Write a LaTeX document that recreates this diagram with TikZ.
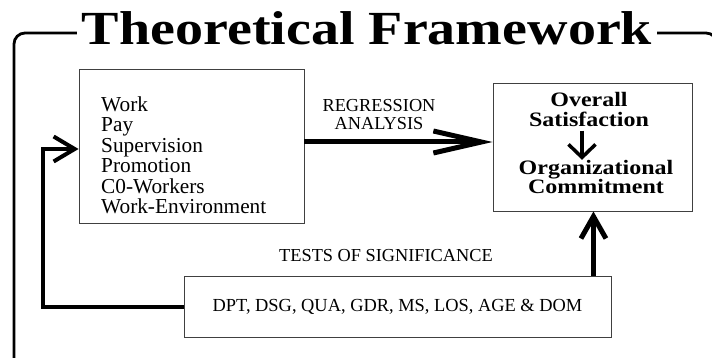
\documentclass[tikz,border=0pt]{standalone}
\usepackage{fontspec}
\setmainfont{Liberation Serif}
\usetikzlibrary{arrows.meta}
\newcommand{\widetxt}[1]{\scalebox{1.17}[1]{#1}}
\begin{document}
\begin{tikzpicture}[x=1pt,y=-1pt,
  box/.style={draw=black!75, line width=0.9pt, inner sep=0pt},
  lbl/.style={inner sep=0pt, font=\fontsize{18.3}{18}\selectfont, align=center},
  boldtxt/.style={inner sep=0pt, align=center, font=\fontsize{20.5}{19.5}\selectfont\bfseries},
  framepath/.style={line width=2.8pt, rounded corners=11pt},
  regarrow/.style={line width=5pt, -{Straight Barb[length=48pt,width=22pt]}},
  uparrow/.style={line width=5pt, -{Straight Barb[length=22pt,width=25pt]}},
  fbarrow/.style={line width=4pt, -{Straight Barb[length=21pt,width=25pt]}},
  downarrow/.style={line width=3.5pt, shorten <=4pt, -{Straight Barb[length=13pt,width=27pt]}},
]
\useasboundingbox (0,0) rectangle (712,358);
\clip (0,0) rectangle (712,358);
\fill[white] (0,0) rectangle (712,358);
% outer frame
\draw[framepath] (14,362) -- (14,33) -- (717,33) -- (717,362);
% title
\node[fill=white, inner xsep=5pt, inner ysep=0pt, anchor=base,
      font=\fontsize{47.5}{50}\selectfont\bfseries] (title) at (367,45)
      {\scalebox{1.18}[1]{Theoretical Framework}};
% left box
\node[box, minimum width=225pt, minimum height=154pt] (lbox) at (191.5,146) {};
\node[inner sep=0pt, anchor=north west, align=left,
      font=\fontsize{21.3}{20.4}\selectfont] (ltext) at (101,96.5)
      {Work\\Pay\\Supervision\\Promotion\\C0-Workers\\Work-Environment};
% right box
\node[box, minimum width=199pt, minimum height=128pt] (rbox) at (592.5,147) {};
\node[boldtxt] (sat) at (589,109.5) {\widetxt{Overall}\\\widetxt{Satisfaction}};
\node[boldtxt] (com) at (596,177) {\widetxt{Organizational}\\\widetxt{Commitment}};
% bottom box
\node[box, minimum width=427pt, minimum height=61pt,
      font=\fontsize{18.4}{20}\selectfont] (bbox) at (397.5,306.5)
      {DPT, DSG, QUA, GDR, MS, LOS, AGE \& DOM};
% labels
\node[lbl] (reg) at (379,115) {REGRESSION\\ANALYSIS};
\node[lbl] (tests) at (386,256) {TESTS OF SIGNIFICANCE};
% connectors
\draw[regarrow] ([yshift=4pt]lbox.east) -- ([yshift=4pt]lbox.east -| rbox.west);
\draw[downarrow] ([xshift=-7pt]sat.south) -- ([xshift=-14pt]com.north);
\draw[uparrow] ([xshift=-18pt]bbox.north east) -- ([xshift=-18pt]bbox.north east |- rbox.south);
\coordinate (fbx) at (43,149);
\draw[fbarrow, line join=miter] (bbox.west) -| (fbx) -- ([yshift=-3pt]lbox.west);
\end{tikzpicture}
\end{document}
